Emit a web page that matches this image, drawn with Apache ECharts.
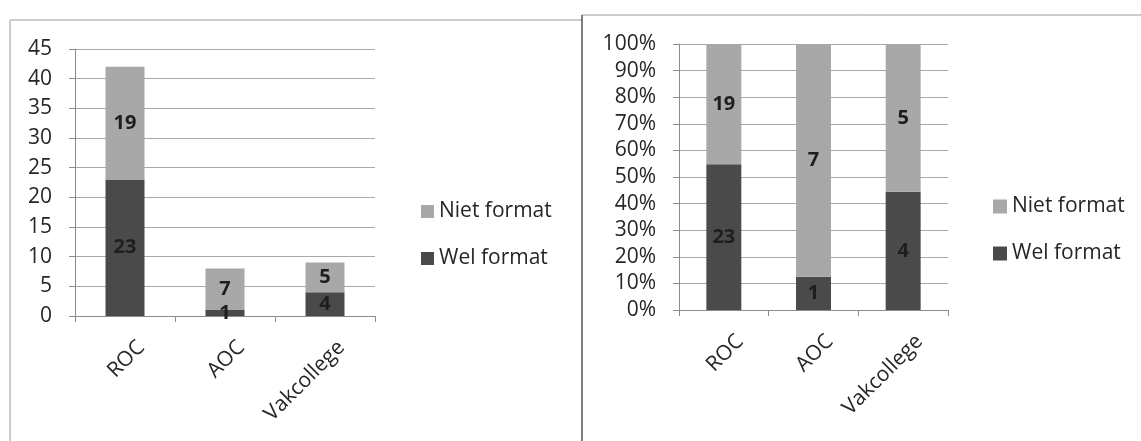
<!DOCTYPE html>
<html>
<head>
<meta charset="utf-8">
<script src="https://cdn.jsdelivr.net/npm/echarts@6/dist/echarts.min.js"></script>
<style>
html,body{margin:0;padding:0;background:#fff;}
#c{width:1141px;height:441px;}
</style>
</head>
<body>
<div id="c"></div>
<script>
// ---- data ----
var categories = ['ROC', 'AOC', 'Vakcollege'];
var welFormat = [23, 1, 4];
var nietFormat = [19, 7, 5];
var countTicks = { min: 0, max: 45, interval: 5 };
var pctTicks = { min: 0, max: 100, interval: 10 };
var seriesNames = ['Niet format', 'Wel format'];

// ---- build ----
var totals = categories.map(function (c, i) { return welFormat[i] + nietFormat[i]; });
function pctItems(arr) {
  return arr.map(function (v, i) { return { value: v / totals[i] * 100, raw: v }; });
}
var FONT = 'Open Sans';
var DARK = '#4a4a4a', LIGHT = '#a8a8a8', TXT = '#262626', GRID = '#a9a9a9', AX = '#8c8c8c';

var chart = echarts.init(document.getElementById('c'));
function yAxis(gi, t, pct) {
  return {
    type: 'value', gridIndex: gi, min: t.min, max: t.max, interval: t.interval,
    axisLine: { show: true, lineStyle: { color: AX, width: 1 } },
    axisTick: { show: true, length: 6, lineStyle: { color: AX } },
    splitLine: { show: true, lineStyle: { color: GRID, width: 1 } },
    axisLabel: { fontFamily: FONT, fontSize: 21, color: TXT, margin: 23,
      formatter: pct ? '{value}%' : '{value}' }
  };
}
function xAxis(gi) {
  return {
    type: 'category', gridIndex: gi, data: categories,
    axisLine: { show: true, lineStyle: { color: AX, width: 1 } },
    axisTick: { show: true, length: 6, lineStyle: { color: AX } },
    axisLabel: { fontFamily: FONT, fontSize: 21, color: TXT, rotate: 45, margin: 12, interval: 0,
      verticalAlign: 'top', lineHeight: 46 }
  };
}
var lbl = { show: true, position: 'inside', fontFamily: FONT, fontSize: 20, fontWeight: 'bold', color: '#1e1e1e' };
var lblPct = Object.assign({}, lbl, { formatter: function (p) { return p.data.raw; } });

chart.setOption({
  animation: false,
  backgroundColor: '#fff',
  grid: [
    { left: 75, top: 49, width: 300, height: 267 },
    { left: 679, top: 44, width: 269, height: 266 }
  ],
  xAxis: [xAxis(0), xAxis(1)],
  yAxis: [yAxis(0, countTicks, false), yAxis(1, pctTicks, true)],
  legend: [
    { orient: 'vertical', left: 416, top: 196, itemWidth: 13, itemHeight: 13, itemGap: 26,
      data: seriesNames, textStyle: { fontFamily: FONT, fontSize: 21, color: TXT }, icon: 'rect' },
    { orient: 'vertical', left: 988, top: 191, itemWidth: 14, itemHeight: 14, itemGap: 26,
      data: seriesNames, textStyle: { fontFamily: FONT, fontSize: 21, color: TXT }, icon: 'rect' }
  ],
  series: [
    { name: 'Wel format', type: 'bar', stack: 'a', xAxisIndex: 0, yAxisIndex: 0, barWidth: '39%',
      data: welFormat, itemStyle: { color: DARK }, label: lbl },
    { name: 'Niet format', type: 'bar', stack: 'a', xAxisIndex: 0, yAxisIndex: 0, barWidth: '39%',
      data: nietFormat, itemStyle: { color: LIGHT }, label: lbl },
    { name: 'Wel format', type: 'bar', stack: 'b', xAxisIndex: 1, yAxisIndex: 1, barWidth: '39%',
      data: pctItems(welFormat), itemStyle: { color: DARK }, label: lblPct },
    { name: 'Niet format', type: 'bar', stack: 'b', xAxisIndex: 1, yAxisIndex: 1, barWidth: '39%',
      data: pctItems(nietFormat), itemStyle: { color: LIGHT }, label: lblPct }
  ],
  graphic: [
    { type: 'line', shape: { x1: 10, y1: 20, x2: 582, y2: 20 }, style: { stroke: '#9a9a9a', lineWidth: 1 } },
    { type: 'line', shape: { x1: 10, y1: 20, x2: 10, y2: 441 }, style: { stroke: '#9a9a9a', lineWidth: 1 } },
    { type: 'line', shape: { x1: 582, y1: 15, x2: 1141, y2: 15 }, style: { stroke: '#9a9a9a', lineWidth: 1 } },
    { type: 'line', shape: { x1: 582, y1: 15, x2: 582, y2: 441 }, style: { stroke: '#555', lineWidth: 1.5 } }
  ]
});
</script>
</body>
</html>
